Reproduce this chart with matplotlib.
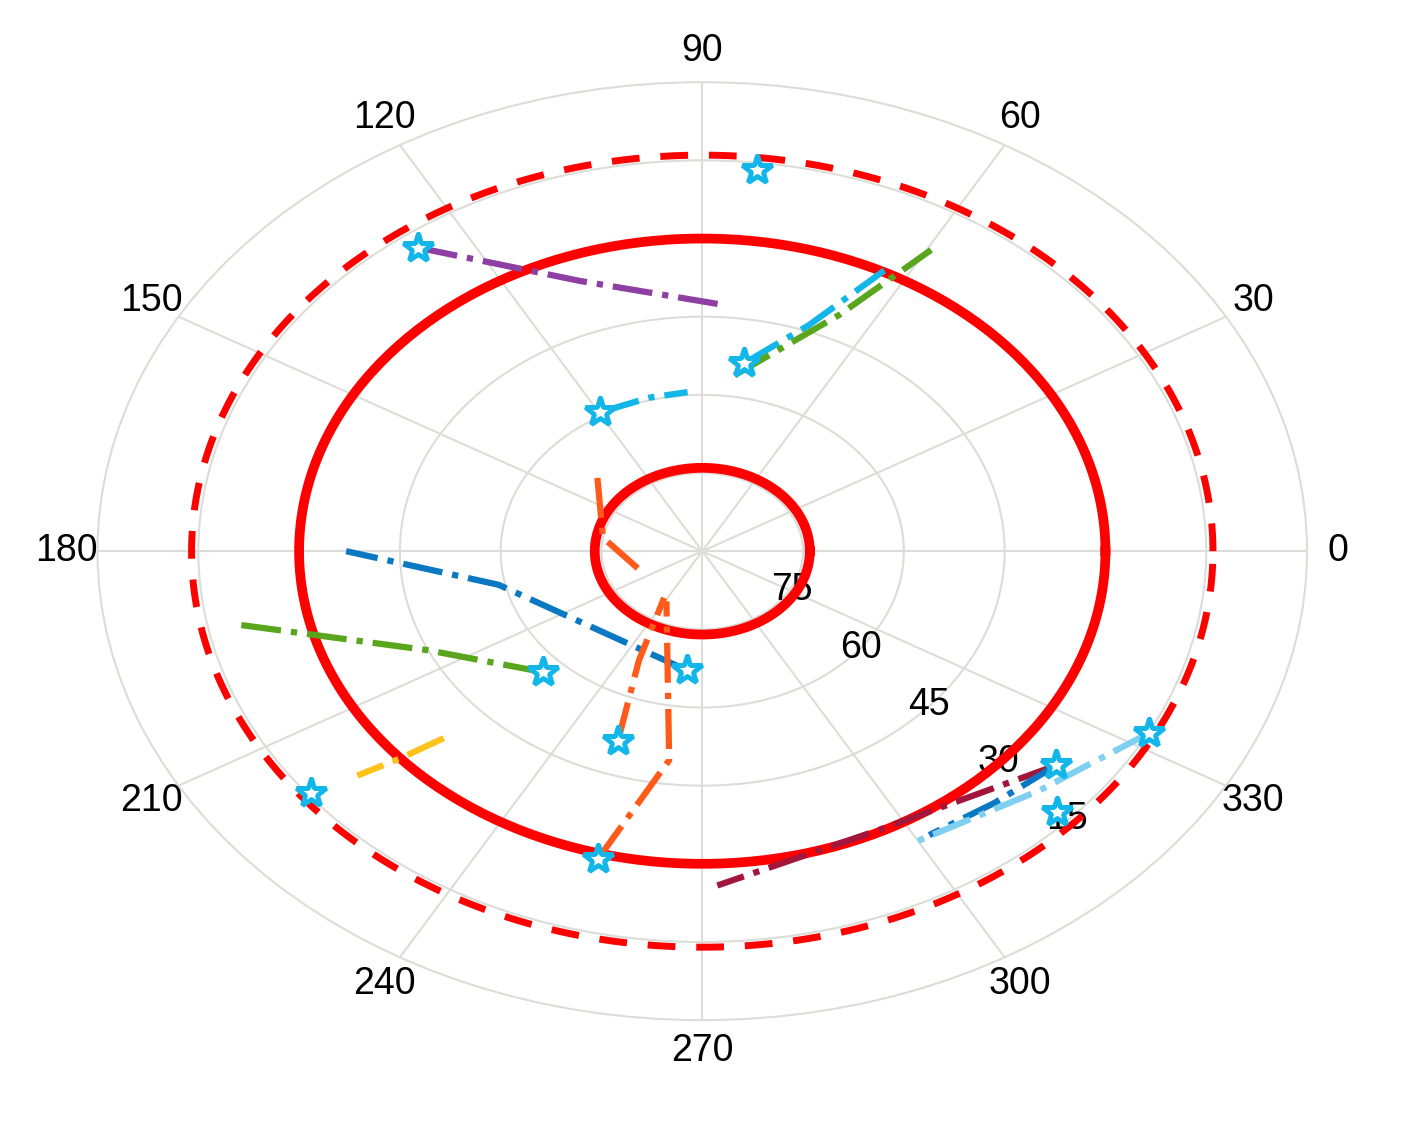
import numpy as np
import matplotlib.pyplot as plt

plt.rcParams['font.family'] = ['Liberation Sans', 'DejaVu Sans']

# satellite tracks: azimuth (deg), elevation (deg); first point is where the star goes
tracks = {
    'purple':  ([126.0, 109.4, 85.6], [18.0, 35.0, 42.7], '#8e3fa3', True),
    'cyan1':   ([80.2, 69.9, 63.3], [53.4, 43.8, 29.7], '#12b6e8', True),
    'green1':  ([81.9, 65.8, 59.5], [55.9, 40.3, 22.9], '#5aa51e', False),
    'cyan2':   ([119.6, 105.0, 94.1], [59.3, 59.5, 59.4], '#12b6e8', True),
    'orange1': ([138.0, 170.0, 201.0], [69.0, 75.0, 80.0], '#ff5a1a', False),
    'blue1':   ([264.5, 192.0, 180.0], [67.0, 59.0, 37.0], '#0a78c2', True),
    'green2':  ([224.3, 205.0, 191.6], [56.8, 45.0, 19.7], '#5aa51e', True),
    'orange2': ([251.0, 245.8, 237.6], [51.4, 67.0, 79.4], '#ff5a1a', True),
    'orange3': ([255.3, 263.0, 241.0], [29.0, 49.6, 79.0], '#ff5a1a', True),
    'yellow':  ([223.0, 221.5, 220.0], [37.4, 30.0, 23.0], '#ffc21a', False),
    'crimson': ([322.0, 296.0, 272.0], [23.2, 30.4, 25.8], '#a3163c', True),
    'blue2':   ([322.0, 312.0, 301.8], [23.2, 25.0, 25.9], '#0a78c2', False),
    'ltblue':  ([332.3, 317.5, 300.0], [14.9, 22.0, 25.8], '#7fd0f0', True),
}
lone_stars_az = [83.6, 218.5, 316.5]
lone_stars_el = [16.4, 15.6, 17.3]

mask_solid = [74.0, 30.0]
mask_dashed = 14.0

theta_ticks = np.arange(0, 360, 30)
r_ticks = [15, 30, 45, 60, 75]

fig = plt.figure(figsize=(14.13, 11.26), dpi=100)
ax = fig.add_axes([0.069, 0.094, 0.856, 0.833], projection='polar')
ax.set_aspect('auto')
ax.set_ylim(0, 90)

full = np.linspace(0, 2 * np.pi, 361)
for el in mask_solid:
    ax.plot(full, np.full_like(full, 90 - el), color='red', lw=7, zorder=3)
ax.plot(full, np.full_like(full, 90 - mask_dashed), color='red', lw=5,
        ls=(0, (4, 3)), zorder=3)

for name, (az, el, c, star) in tracks.items():
    th = np.radians(az)
    r = 90 - np.array(el)
    ax.plot(th, r, color=c, lw=4.5, ls='-.', zorder=4)
    if star:
        ax.plot(th[0], r[0], marker='*', ms=22, mfc='white', mec='#12b6e8',
                mew=3.5, zorder=6)
ax.plot(np.radians(lone_stars_az), 90 - np.array(lone_stars_el), ls='none',
        marker='*', ms=22, mfc='white', mec='#12b6e8', mew=3.5, zorder=6)

ax.set_thetagrids(theta_ticks, [str(t) for t in theta_ticks], fontsize=27)
ax.set_rgrids(r_ticks, [str(90 - r) for r in r_ticks], fontsize=27, angle=-47)
ax.tick_params(axis='x', pad=12)
ax.grid(color='#dcdcd8', lw=1.5)
ax.spines['polar'].set_color('#dcdcd8')
ax.spines['polar'].set_linewidth(1.5)

fig.savefig('out.png', dpi=100)
